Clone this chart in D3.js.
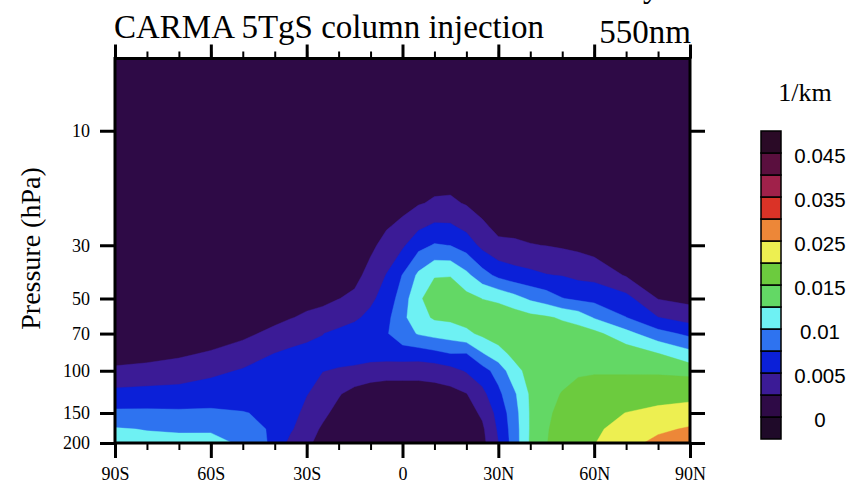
<!DOCTYPE html>
<html>
<head>
<meta charset="utf-8">
<script src="https://cdn.jsdelivr.net/npm/d3@7"></script>
<style>
  body { margin: 0; background: #fff; }
  svg { display: block; }
</style>
</head>
<body>
<div id="svg-container"></div>
<script>
var width = 846, height = 484;

// latitude of each profile column (deg, south negative)
var lats = [-90,-80,-70,-60,-50,-40,-35,-30,-25,-20,-15,-10,-5,0,5,10,15,20,25,30,35,40,45,50,55,60,70,80,90];
// pressure levels (hPa), top to bottom
var levels = [5,10,15,20,25,30,40,50,60,70,85,100,125,150,175,200];

// 550nm extinction, in 1e-3 1/km, one profile (over levels) per latitude
var profiles = [
  [0.1,0.1,0.1,0.2,0.2,0.2,0.3,0.4,0.5,0.7,1.3,3.0,5.7,8.0,10.2,11.0],
  [0.1,0.1,0.1,0.2,0.2,0.2,0.3,0.4,0.6,0.8,1.5,3.4,5.8,8.0,9.9,10.7],
  [0.1,0.1,0.1,0.2,0.2,0.3,0.4,0.5,0.6,0.8,2.1,3.7,5.9,7.9,9.8,10.5],
  [0.1,0.1,0.2,0.2,0.3,0.3,0.4,0.5,0.7,1.0,2.8,4.4,6.3,7.9,9.85,10.4],
  [0.1,0.1,0.2,0.2,0.3,0.4,0.5,0.7,0.95,1.9,3.75,5.2,6.5,7.6,8.8,9.8],
  [0.1,0.2,0.2,0.3,0.3,0.4,0.6,1.0,1.8,3.2,5.05,5.9,6.7,7.1,7.0,6.8],
  [0.1,0.2,0.2,0.3,0.4,0.5,0.8,1.3,2.4,3.8,5.5,6.2,6.4,6.0,5.3,4.2],
  [0.1,0.2,0.3,0.3,0.4,0.6,0.9,1.8,2.85,4.5,5.6,5.9,5.1,4.2,3.5,2.9],
  [0.1,0.2,0.3,0.4,0.5,0.7,1.1,2.0,3.2,4.95,5.5,5.05,3.9,3.0,2.2,1.8],
  [0.1,0.2,0.3,0.4,0.5,0.6,1.4,2.45,4.0,5.5,5.8,4.8,2.7,1.8,1.4,1.2],
  [0.1,0.2,0.3,0.4,0.5,0.8,1.8,3.0,4.6,6.0,6.0,4.5,1.6,1.5,1.2,1.1],
  [0.1,0.2,0.4,0.6,1.1,2.0,3.3,4.5,5.6,6.6,6.4,3.5,1.5,1.2,1.0,1.0],
  [0.1,0.3,0.5,1.3,2.3,3.3,5.1,6.0,6.8,7.3,6.3,3.3,1.4,1.1,1.0,1.0],
  [0.1,0.3,0.8,1.8,3.0,4.6,7.6,8.7,9.4,8.9,6.4,3.3,1.4,1.1,1.0,1.0],
  [0.1,0.4,1.2,2.3,4.5,6.7,10.5,12.0,11.6,10.2,6.3,3.3,1.4,1.1,1.0,1.0],
  [0.1,0.5,1.4,2.8,5.4,7.7,12.3,14.0,12.8,10.8,6.8,3.5,1.5,1.1,1.0,1.0],
  [0.1,0.5,1.4,2.9,5.3,7.45,12.4,13.8,13.0,11.2,7.45,4.1,1.7,1.2,1.0,1.0],
  [0.1,0.4,1.1,2.3,4.3,6.4,10.6,13.3,13.4,12.0,7.4,5.2,2.4,1.5,1.2,1.1],
  [0.1,0.3,0.8,1.6,2.9,4.3,8.5,12.45,13.9,13.0,9.8,6.5,4.3,2.9,2.1,1.8],
  [0.1,0.2,0.6,1.1,1.9,3.0,6.9,12.0,14.0,13.8,11.5,8.5,6.9,5.8,5.3,4.9],
  [0.1,0.2,0.5,1.0,1.8,2.9,6.0,10.9,13.8,14.3,13.2,11.6,9.6,9.0,8.8,8.7],
  [0.1,0.2,0.5,1.0,1.7,2.6,5.6,9.6,13.2,14.2,14.0,13.4,12.8,12.7,12.7,12.8],
  [0.1,0.2,0.4,0.9,1.6,2.45,5.1,8.8,12.8,14.0,14.2,14.2,14.4,14.6,14.8,14.9],
  [0.1,0.2,0.4,0.8,1.5,2.2,4.9,7.6,12.2,13.7,14.1,14.3,15.1,15.6,15.9,16.1],
  [0.1,0.2,0.3,0.7,1.3,1.95,4.4,7.0,11.5,13.6,14.0,14.6,16.0,17.2,18.2,19.0],
  [0.1,0.2,0.3,0.6,1.0,1.4,4.2,6.8,9.8,13.2,14.1,14.7,16.5,18.0,19.1,19.8],
  [0.1,0.1,0.2,0.4,0.8,1.1,2.3,5.8,7.55,10.8,14.0,14.6,17.0,20.1,22.0,23.5],
  [0.1,0.1,0.2,0.3,0.5,0.7,1.3,2.4,5.05,8.4,12.6,14.4,17.8,21.4,24.2,26.2],
  [0.1,0.1,0.2,0.3,0.4,0.6,1.0,1.8,3.9,6.9,10.8,13.9,18.2,22.5,25.5,27.5]
];

// contour levels (1/km) and fill colours
var thresholds = [0, 0.0025, 0.005, 0.0075, 0.01, 0.0125, 0.015, 0.02, 0.025, 0.03, 0.035, 0.04, 0.045];
var belowColor = "#1f0a29";
var fillColors = ["#2e0a46", "#3b1b96", "#0b20d8", "#2e73f0", "#6ef1f3", "#63d865",
                  "#6ccb3e", "#edef51", "#ed8738", "#da3327", "#a0214a", "#5a0f3e", "#2a0a26"];
var cbLabelValues = [0, 0.005, 0.01, 0.015, 0.025, 0.035, 0.045];

var xMajor = [-90, -60, -30, 0, 30, 60, 90];
var xMinor = d3.range(-90, 91, 10);
var yTicks = [10, 30, 50, 70, 100, 150, 200];

var serif = "'Liberation Serif', 'Times New Roman', serif";
var sans = "'Liberation Sans', Arial, sans-serif";

var svg = d3.select("#svg-container")
  .append("svg")
  .attr("width", width)
  .attr("height", height);

// SCALES
var x = d3.scaleLinear().domain([-90, 90]).range([115, 690]);
var y = d3.scaleLog().domain([5, 200]).range([58.5, 443]);

// grid index -> pixel (d3.contours puts samples at i + 0.5)
var ix = d3.scaleLinear()
  .domain(lats.map(function(d, i) { return i + 0.5; }))
  .range(lats.map(function(d) { return x(d); }))
  .clamp(true);
var iy = d3.scaleLinear()
  .domain(levels.map(function(d, i) { return i + 0.5; }))
  .range(levels.map(function(d) { return y(d); }))
  .clamp(true);

var path = d3.geoPath(d3.geoTransform({
  point: function(px, py) { this.stream.point(ix(px), iy(py)); }
}));

// CONTOURS
var grid = [];
levels.forEach(function(p, j) {
  lats.forEach(function(lat, i) {
    grid[j * lats.length + i] = profiles[i][j] / 1000;
  });
});

var contours = d3.contours()
  .size([lats.length, levels.length])
  .thresholds(thresholds)(grid);

svg.append("clipPath").attr("id", "plotclip")
  .append("rect")
  .attr("x", 115).attr("y", 58.5).attr("width", 575).attr("height", 384.5);

var plot = svg.append("g").attr("clip-path", "url(#plotclip)");

plot.append("rect")
  .attr("x", 115).attr("y", 58.5).attr("width", 575).attr("height", 384.5)
  .style("fill", belowColor);

plot.selectAll(".band")
  .data(contours)
  .enter()
  .append("path")
  .attr("class", "band")
  .attr("d", path)
  .style("fill", function(d, i) { return fillColors[i]; })
  .style("stroke", function(d, i) { return fillColors[i]; })
  .style("stroke-width", 0.4);

// AXES
function latLabel(d) {
  if (d === 0) return "0";
  return Math.abs(d) + (d < 0 ? "S" : "N");
}

function styleAxis(g, w) {
  g.select(".domain").remove();
  g.selectAll(".tick line").attr("stroke", "#000").attr("stroke-width", w);
  g.selectAll("text").attr("font-family", serif).attr("font-size", 18).attr("fill", "#000");
}

svg.append("g")
  .attr("transform", "translate(0,443)")
  .call(d3.axisBottom(x).tickValues(xMinor).tickSize(7).tickFormat(""))
  .call(styleAxis, 2);
svg.append("g")
  .attr("transform", "translate(0,443)")
  .call(d3.axisBottom(x).tickValues(xMajor).tickSize(15).tickPadding(9).tickFormat(latLabel))
  .call(styleAxis, 3);

svg.append("g")
  .attr("transform", "translate(0,58.5)")
  .call(d3.axisTop(x).tickValues(xMinor).tickSize(7).tickFormat(""))
  .call(styleAxis, 2);
svg.append("g")
  .attr("transform", "translate(0,58.5)")
  .call(d3.axisTop(x).tickValues(xMajor).tickSize(14).tickFormat(""))
  .call(styleAxis, 3);

svg.append("g")
  .attr("transform", "translate(115,0)")
  .call(d3.axisLeft(y).tickValues(yTicks).tickSize(15).tickPadding(10).tickFormat(d3.format("d")))
  .call(styleAxis, 3);
svg.append("g")
  .attr("transform", "translate(690,0)")
  .call(d3.axisRight(y).tickValues(yTicks).tickSize(15).tickFormat(""))
  .call(styleAxis, 3);

// frame
svg.append("rect")
  .attr("x", 115).attr("y", 58.5).attr("width", 575).attr("height", 384.5)
  .style("fill", "none")
  .style("stroke", "#000")
  .style("stroke-width", 3);

// TITLES
svg.append("text")
  .attr("x", 643).attr("y", -3)
  .attr("font-family", serif).attr("font-size", 33)
  .text("y");

svg.append("text")
  .attr("x", 114).attr("y", 38)
  .attr("font-family", serif).attr("font-size", 33)
  .text("CARMA 5TgS column injection");

svg.append("text")
  .attr("x", 691).attr("y", 43)
  .attr("text-anchor", "end")
  .attr("font-family", serif).attr("font-size", 33)
  .text("550nm");

svg.append("text")
  .attr("transform", "translate(39.5,248.5) rotate(-90)")
  .attr("text-anchor", "middle")
  .attr("font-family", serif).attr("font-size", 28)
  .text("Pressure (hPa)");

// COLORBAR
var cb = d3.scaleBand().domain(d3.range(thresholds.length + 1)).range([439, 131]);
var cbColors = [belowColor].concat(fillColors);

var bar = svg.append("g");
bar.selectAll("rect")
  .data(cbColors)
  .enter()
  .append("rect")
  .attr("x", 761)
  .attr("y", function(d, i) { return cb(i); })
  .attr("width", 20)
  .attr("height", cb.bandwidth())
  .style("fill", function(d) { return d; })
  .style("stroke", "#000")
  .style("stroke-width", 1.5);

bar.selectAll("text")
  .data(cbLabelValues)
  .enter()
  .append("text")
  .attr("x", 820)
  .attr("y", function(d) { return cb(thresholds.indexOf(d)) + 3; })
  .attr("dy", "0.35em")
  .attr("text-anchor", "middle")
  .attr("font-family", sans)
  .attr("font-size", 20.5)
  .text(function(d) { return d === 0 ? "0" : String(d); });

svg.append("text")
  .attr("x", 805).attr("y", 101)
  .attr("text-anchor", "middle")
  .attr("font-family", serif).attr("font-size", 26)
  .text("1/km");
</script>
</body>
</html>
